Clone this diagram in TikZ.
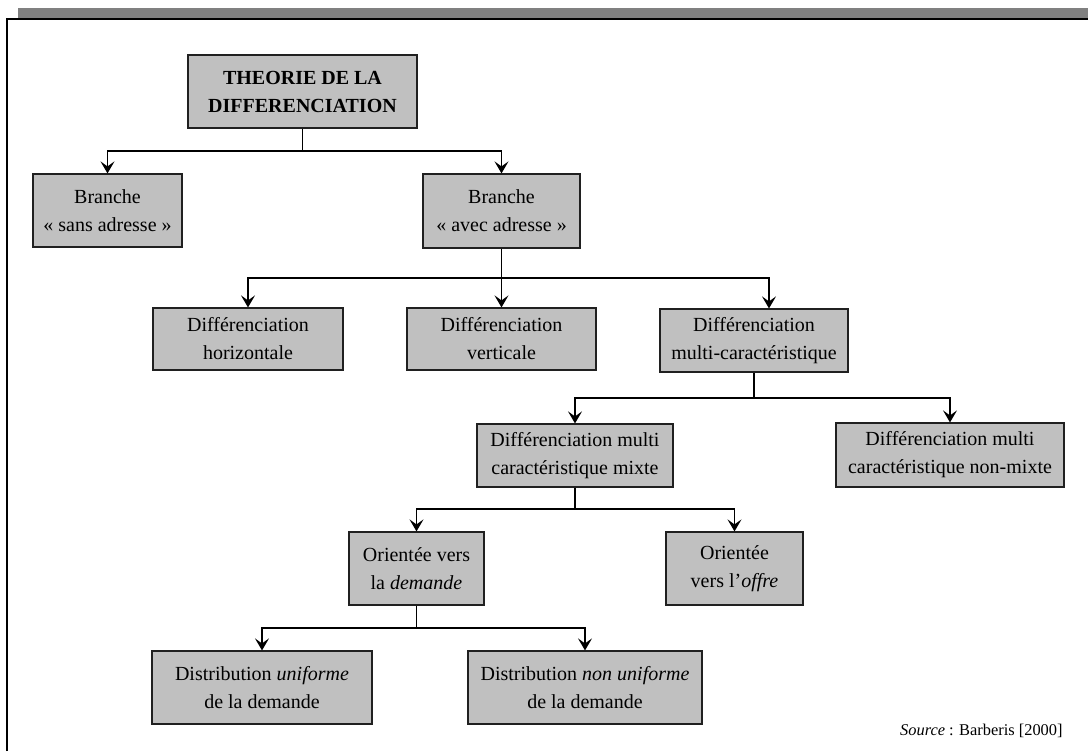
\documentclass[tikz,border=0pt]{standalone}
\usepackage{fontspec}
\setmainfont{Liberation Serif}
\usepackage{tikz}
\usetikzlibrary{arrows.meta, positioning}
\definecolor{dfBox}{HTML}{C0C0C0}
\definecolor{dfBar}{HTML}{808080}
\definecolor{dfLine}{HTML}{202020}

\begin{document}
\begin{tikzpicture}[
  x=0.5pt, y=-0.5pt,
  box/.style={draw=dfLine, fill=dfBox, line width=0.6pt, align=center,
              inner sep=0pt, font=\fontsize{10}{14}\selectfont},
  link/.style={draw=black, line width=0.6pt},
  arr/.style={link, -{Stealth[length=6pt, width=7pt, inset=2.5pt]}},
]
  \useasboundingbox (0,0) rectangle (1088,751);

  % frame
  \fill[dfBar] (18,8) rectangle (1088,18);
  \draw[line width=0.6pt] (7,751) -- (7,19) -- (1088,19);

  % level 0 and 1
  \node[box, minimum width=114.5pt, minimum height=36.5pt] (theo) at (302.5,91.5)
    {\textbf{THEORIE DE LA}\\\textbf{DIFFERENCIATION}};
  \node[box, minimum width=74.5pt, minimum height=36.5pt] (sans) at (107.5,210.5)
    {Branche\\« sans adresse »};
  \node[box, minimum width=78.5pt, minimum height=37pt] (avec) at (501.5,211)
    {Branche\\« avec adresse »};

  % level 2
  \node[box, minimum width=95pt, minimum height=31pt] (horiz) at (248,339)
    {Différenciation\\horizontale};
  \node[box, minimum width=94.5pt, minimum height=31pt] (verti) at (501.5,339)
    {Différenciation\\verticale};
  \node[box, minimum width=94pt, minimum height=31.5pt] (multi) at (754,340.5)
    {Différenciation\\multi-caractéristique};

  % level 3
  \node[box, minimum width=98pt, minimum height=31.5pt] (mixte) at (575,455.5)
    {Différenciation multi\\caractéristique mixte};
  \node[box, minimum width=114pt, minimum height=32pt] (nonmixte) at (950,455)
    {Différenciation multi\\caractéristique non-mixte};

  % level 4
  \node[box, minimum width=67.5pt, minimum height=36.5pt] (demande) at (416.5,568.5)
    {Orientée vers\\la \textit{demande}};
  \node[box, minimum width=68.5pt, minimum height=36.5pt] (offre) at (734.5,568.5)
    {Orientée\\vers l’\textit{offre}};

  % level 5
  \node[box, minimum width=110pt, minimum height=36.5pt] (unif) at (262,687.5)
    {Distribution \textit{uniforme}\\de la demande};
  \node[box, minimum width=117pt, minimum height=36.5pt] (nonunif) at (585,687.5)
    {Distribution \textit{non uniforme}\\de la demande};

  % junctions
  \coordinate (j1) at (302.5,151);
  \coordinate (j2) at (501.5,278);
  \coordinate (j3) at (754,398);
  \coordinate (j4) at (575,509);
  \coordinate (j5) at (416.5,628);

  % connectors
  \draw[link] (theo.south) -- (j1);
  \draw[arr] (j1) -| (sans.north);
  \draw[arr] (j1) -| (avec.north);

  \draw[link] (avec.south) -- (j2);
  \draw[arr] (j2) -| (horiz.north);
  \draw[arr] (j2) -- (verti.north);
  \draw[arr] (j2) -| ([xshift=7.5pt]multi.north);

  \draw[link] (multi.south) -- (j3);
  \draw[arr] (j3) -| (mixte.north);
  \draw[arr] (j3) -| (nonmixte.north);

  \draw[link] (mixte.south) -- (j4);
  \draw[arr] (j4) -| (demande.north);
  \draw[arr] (j4) -| (offre.north);

  \draw[link] (demande.south) -- (j5);
  \draw[arr] (j5) -| (unif.north);
  \draw[arr] (j5) -| (nonunif.north);

  % source
  \node[anchor=east, inner sep=0pt, font=\fontsize{8.2}{10}\selectfont] (src) at (1063,731)
    {\textit{Source} : Barberis [2000]};
\end{tikzpicture}
\end{document}
